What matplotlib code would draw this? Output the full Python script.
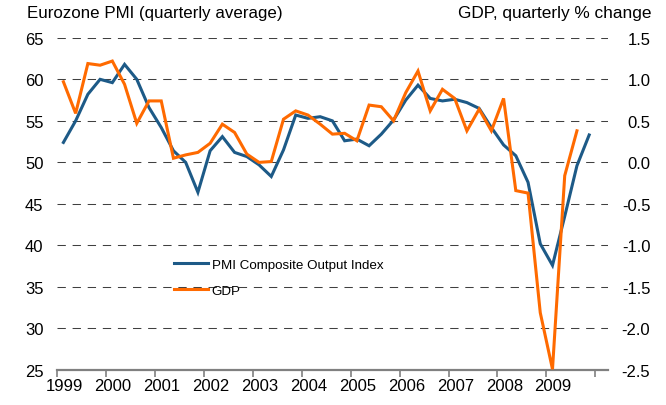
import matplotlib
matplotlib.use("Agg")
import matplotlib.pyplot as plt
import numpy as np

plt.rcParams['font.family'] = ['Liberation Sans', 'DejaVu Sans']
plt.rcParams['axes.unicode_minus'] = False

years = list(range(1999, 2010))
year_labels = [str(y) for y in years]

pmi = [52.4, 55.0, 58.2, 60.0,
       59.6, 61.8, 60.0, 56.6,
       54.2, 51.4, 50.0, 46.4,
       51.4, 53.1, 51.2, 50.7,
       49.7, 48.3, 51.5, 55.7,
       55.3, 55.5, 55.0, 52.6,
       52.8, 52.0, 53.4, 55.1,
       57.5, 59.3, 57.7, 57.4,
       57.6, 57.2, 56.5, 54.2,
       52.1, 50.8, 47.6, 40.2,
       37.6, 43.5, 49.6, 53.3]

gdp = [0.97, 0.59, 1.19, 1.17,
       1.22, 0.94, 0.47, 0.74,
       0.74, 0.05, 0.09, 0.12,
       0.23, 0.46, 0.36, 0.10,
       0.00, 0.01, 0.52, 0.62,
       0.57, 0.46, 0.34, 0.35,
       0.26, 0.69, 0.67, 0.50,
       0.84, 1.10, 0.62, 0.88,
       0.77, 0.38, 0.64, 0.38,
       0.77, -0.34, -0.37, -1.81,
       -2.49, -0.16, 0.38]

pmi_ticks = [25, 30, 35, 40, 45, 50, 55, 60, 65]
gdp_ticks = [-2.5, -2.0, -1.5, -1.0, -0.5, 0.0, 0.5, 1.0, 1.5]

# quarterly positions (mid-quarter)
x_pmi = 1999 + 0.125 + 0.25 * np.arange(len(pmi))
x_gdp = 1999 + 0.125 + 0.25 * np.arange(len(gdp))

blue = '#1D5A87'
orange = '#FF6A00'

fig = plt.figure(figsize=(6.66, 4.06), dpi=100)
ax = fig.add_axes([57.3/666, 1 - 371/406, (608 - 57.3)/666, (371 - 38.8)/406])
ax2 = ax.twinx()

ax.set_xlim(1999, 2010.26)
ax.set_ylim(25, 65)
ax2.set_ylim(-2.5, 1.5)

# gridlines
for v in pmi_ticks[1:]:
    ax.axhline(v, color='#404040', lw=0.75, linestyle=(0, (8, 6.5)), zorder=0)

ln1, = ax.plot(x_pmi, pmi, color=blue, lw=2.2, solid_joinstyle='miter', zorder=3,
               label='PMI Composite Output Index')
ln2, = ax2.plot(x_gdp, gdp, color=orange, lw=2.2, solid_joinstyle='miter', zorder=3,
                label='GDP')

for a in (ax, ax2):
    for s in ('top', 'left', 'right'):
        a.spines[s].set_visible(False)
ax2.spines['bottom'].set_visible(False)
ax.spines['bottom'].set_color('#808080')
ax.spines['bottom'].set_linewidth(1.6)

ax.set_yticks(pmi_ticks)
ax.set_yticklabels([str(v) for v in pmi_ticks])
ax.tick_params(axis='y', length=0, pad=10, labelsize=12)

ax2.set_yticks(gdp_ticks)
ax2.set_yticklabels(['%.1f' % v for v in gdp_ticks])
ax2.tick_params(axis='y', length=0, pad=30.5, labelsize=12)
for t in ax2.get_yticklabels():
    t.set_horizontalalignment('right')

ax.set_xticks(list(range(1999, 2011)))
ax.set_xticklabels([])
ax.tick_params(axis='x', which='major', length=5, width=1.2, color='#808080', direction='out')
ax.set_xticks([y + 0.14 for y in years], minor=True)
ax.set_xticklabels(year_labels, minor=True)
ax.tick_params(axis='x', which='minor', length=0, pad=6, labelsize=12)

fig.text(27/666, 1 - 6/406, 'Eurozone PMI (quarterly average)', ha='left', va='top', fontsize=12.2)
fig.text(652/666, 1 - 6/406, 'GDP, quarterly % change', ha='right', va='top', fontsize=12.4)

leg = ax2.legend(handles=[ln1, ln2], loc='upper left', bbox_to_anchor=(169/666, 1 - 254/406),
                 bbox_transform=fig.transFigure, frameon=False, fontsize=9.6,
                 handlelength=2.5, handletextpad=0.3, labelspacing=1.05, borderaxespad=0)

fig.savefig('out.png', dpi=100)
